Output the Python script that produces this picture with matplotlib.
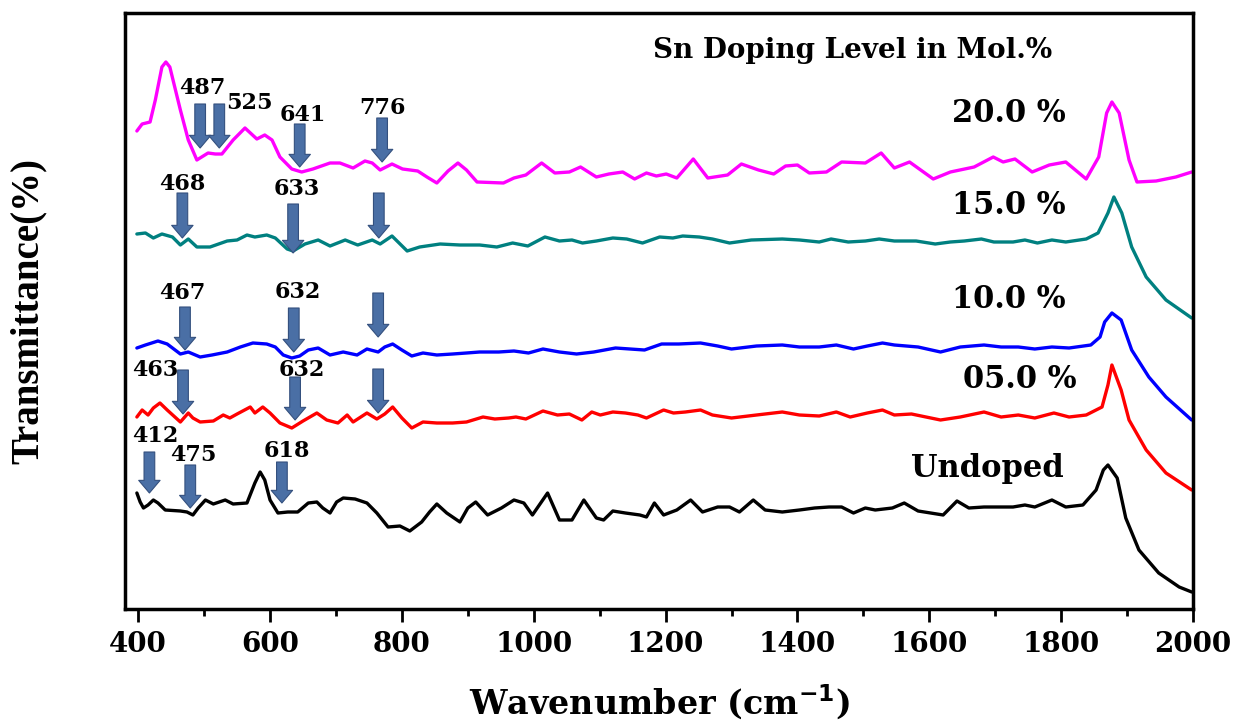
import matplotlib
matplotlib.use("Agg")
import matplotlib.pyplot as plt
from matplotlib.ticker import MultipleLocator

# FTIR spectra (wavenumber cm-1, transmittance in a.u. with offset)
w_20 = [398, 406, 418, 426, 436, 442, 448, 464, 476, 489, 506, 517, 527, 544, 562, 580, 592, 603, 615, 633,
        648, 665, 691, 706, 726, 744, 755, 767, 785, 801, 824, 838, 853, 870, 885, 898, 914, 954, 970, 988,
        1012, 1032, 1054, 1071, 1095, 1114, 1135, 1153, 1171, 1186, 1201, 1217, 1242, 1264, 1294, 1315, 1341,
        1364, 1382, 1400, 1418, 1444, 1467, 1503, 1527, 1547, 1570, 1606, 1632, 1668, 1697, 1712, 1730, 1756,
        1782, 1807, 1838, 1857, 1869, 1877, 1888, 1903, 1915, 1944, 1974, 1998]
t_20 = [95.6, 97.0, 97.4, 101.8, 108.4, 109.4, 108.4, 99.8, 93.8, 89.8, 91.2, 91.0, 91.0, 93.8, 96.2, 94.0,
        94.8, 93.8, 90.4, 88.0, 87.4, 88.0, 89.2, 89.2, 88.2, 89.6, 89.2, 87.8, 89.0, 88.0, 87.6, 86.4, 85.2,
        87.6, 89.2, 87.8, 85.4, 85.2, 86.2, 86.8, 89.2, 87.2, 87.4, 88.4, 86.4, 87.0, 87.4, 86.0, 87.2, 86.6,
        87.0, 86.2, 90.0, 86.2, 86.8, 89.0, 87.8, 87.0, 88.6, 88.8, 87.2, 87.4, 89.4, 89.2, 91.2, 88.2, 89.4,
        86.0, 87.4, 88.4, 90.4, 89.4, 90.0, 87.4, 88.8, 89.4, 86.0, 90.4, 99.2, 101.4, 99.2, 89.8, 85.4, 85.6,
        86.4, 87.4]

w_15 = [398, 411, 423, 436, 452, 464, 476, 489, 509, 535, 550, 565, 577, 595, 608, 626, 635, 653, 673, 691,
        714, 733, 755, 767, 785, 808, 827, 858, 888, 918, 944, 968, 991, 1017, 1039, 1058, 1074, 1095, 1120,
        1141, 1165, 1191, 1211, 1226, 1251, 1271, 1297, 1330, 1377, 1403, 1433, 1451, 1477, 1503, 1524, 1547,
        1580, 1609, 1632, 1653, 1679, 1698, 1727, 1745, 1764, 1786, 1807, 1838, 1856, 1871, 1880, 1892, 1907,
        1929, 1959, 1998]
t_15 = [75.0, 75.2, 74.2, 75.0, 74.4, 72.8, 74.0, 72.4, 72.4, 73.6, 73.8, 74.8, 74.4, 74.8, 74.2, 72.0, 71.6,
        73.0, 73.8, 72.6, 73.8, 72.8, 73.8, 73.0, 74.6, 71.6, 72.4, 73.0, 72.8, 72.8, 72.4, 73.2, 72.6, 74.4,
        73.6, 73.8, 73.2, 73.6, 74.2, 74.0, 73.2, 74.4, 74.2, 74.6, 74.4, 74.0, 73.2, 73.8, 74.0, 73.8, 73.4,
        74.0, 73.4, 73.6, 74.0, 73.6, 73.6, 73.0, 73.4, 73.6, 74.0, 73.4, 73.4, 73.8, 73.2, 73.8, 73.4, 74.0,
        75.2, 79.2, 82.4, 79.2, 72.4, 66.4, 61.8, 58.2]

w_10 = [398, 411, 430, 444, 464, 476, 494, 512, 535, 555, 574, 595, 608, 620, 633, 645, 658, 673, 691, 711,
        732, 747, 764, 774, 786, 800, 815, 832, 853, 877, 898, 918, 947, 970, 992, 1014, 1039, 1065, 1091, 1124,
        1168, 1194, 1220, 1253, 1279, 1300, 1338, 1377, 1403, 1433, 1459, 1485, 1506, 1529, 1547, 1583, 1617,
        1647, 1683, 1709, 1735, 1760, 1786, 1812, 1845, 1859, 1866, 1877, 1891, 1907, 1933, 1959, 1998]
t_10 = [52.2, 52.8, 53.6, 53.0, 51.0, 51.4, 50.4, 50.8, 51.4, 52.4, 53.2, 53.0, 52.4, 50.8, 50.2, 50.6, 51.8,
        52.2, 50.8, 51.4, 50.8, 52.0, 51.4, 52.4, 53.0, 51.8, 50.6, 51.2, 50.8, 51.0, 51.2, 51.4, 51.4, 51.6,
        51.2, 52.0, 51.4, 51.0, 51.4, 52.2, 51.8, 53.0, 53.0, 53.2, 52.6, 52.0, 52.6, 52.8, 52.4, 52.4, 52.8,
        52.0, 52.6, 53.2, 52.8, 52.4, 51.4, 52.4, 52.8, 52.4, 52.4, 52.0, 52.4, 52.2, 52.8, 54.4, 57.4, 59.2,
        57.8, 51.8, 46.4, 42.4, 37.8]

w_05 = [398, 406, 415, 423, 433, 444, 464, 476, 483, 494, 514, 529, 539, 550, 570, 577, 589, 600, 615, 633,
        650, 671, 686, 703, 717, 726, 747, 762, 774, 786, 800, 815, 832, 853, 877, 898, 923, 941, 962, 973, 988,
        1014, 1036, 1054, 1073, 1088, 1101, 1120, 1139, 1158, 1171, 1197, 1212, 1230, 1253, 1271, 1300, 1338,
        1377, 1403, 1433, 1459, 1480, 1506, 1529, 1547, 1573, 1595, 1617, 1647, 1683, 1709, 1735, 1760, 1789,
        1812, 1838, 1862, 1871, 1877, 1891, 1903, 1929, 1959, 1998]
t_05 = [38.4, 39.8, 38.8, 40.2, 41.2, 39.8, 37.4, 39.2, 38.2, 37.4, 37.6, 38.8, 38.2, 39.0, 40.4, 39.2, 40.4,
        39.2, 37.2, 36.2, 37.6, 39.2, 37.8, 37.2, 38.8, 37.4, 39.2, 38.0, 39.0, 40.4, 38.2, 36.2, 37.4, 37.2,
        37.2, 37.4, 38.4, 38.0, 38.2, 38.4, 38.0, 39.6, 38.8, 39.0, 37.8, 39.4, 38.8, 39.4, 39.2, 38.8, 38.2,
        39.8, 39.2, 39.4, 39.8, 38.8, 38.2, 38.8, 39.4, 38.8, 38.6, 39.4, 38.4, 39.2, 39.8, 38.8, 39.0, 38.4,
        37.8, 38.4, 39.4, 38.4, 38.8, 38.2, 39.2, 38.4, 38.8, 40.4, 44.8, 48.8, 43.8, 37.8, 31.8, 27.2, 23.8]

w_un = [398, 403, 408, 415, 423, 430, 441, 464, 474, 483, 491, 502, 514, 532, 544, 565, 577, 585, 592, 600,
        612, 627, 642, 658, 671, 680, 691, 701, 711, 729, 747, 762, 779, 797, 812, 830, 842, 853, 868, 888, 900,
        912, 930, 951, 970, 985, 998, 1021, 1039, 1058, 1076, 1095, 1106, 1120, 1139, 1161, 1171, 1183, 1197,
        1217, 1238, 1256, 1279, 1297, 1312, 1333, 1351, 1377, 1403, 1426, 1448, 1467, 1485, 1503, 1518, 1544,
        1562, 1583, 1621, 1642, 1660, 1683, 1727, 1745, 1760, 1786, 1807, 1833, 1853, 1864, 1871, 1885, 1898,
        1918, 1948, 1979, 1998]
t_un = [23.2, 21.4, 20.2, 20.8, 21.8, 21.2, 19.8, 19.6, 19.4, 18.8, 20.2, 21.8, 21.0, 21.8, 21.0, 21.2, 25.2,
        27.4, 25.8, 21.8, 19.2, 19.4, 19.4, 21.2, 21.4, 20.2, 19.2, 21.4, 22.2, 22.0, 21.2, 19.2, 16.4, 16.6,
        15.6, 17.4, 19.4, 21.0, 19.2, 17.4, 20.2, 21.4, 18.8, 20.2, 21.8, 21.2, 18.8, 23.2, 17.8, 17.8, 21.8,
        18.2, 17.8, 19.6, 19.2, 18.8, 18.4, 21.2, 18.8, 19.8, 21.8, 19.4, 20.4, 20.4, 19.4, 21.8, 19.8, 19.4,
        19.8, 20.2, 20.4, 20.4, 19.2, 20.2, 19.8, 20.2, 21.2, 19.6, 18.8, 21.6, 20.2, 20.4, 20.4, 20.8, 20.4,
        21.8, 20.4, 20.8, 23.8, 27.8, 28.8, 26.2, 18.2, 11.8, 7.2, 4.4, 3.4]

series = [(w_20, t_20, "#FF00FF", "20.0 %"), (w_15, t_15, "#008080", "15.0 %"),
          (w_10, t_10, "#0000FF", "10.0 %"), (w_05, t_05, "#FF0000", "05.0 %"),
          (w_un, t_un, "#000000", "Undoped")]

# curve labels (x, y)
name_x = [1720, 1720, 1720, 1738, 1688]
name_y = [99.2, 80.8, 61.8, 46.0, 28.2]

# band arrows: x, top, tip and their labels
arr_x = [494, 523, 645, 770, 467, 635, 765, 471, 636, 764, 468, 638, 764, 417, 479, 618]
arr_top = [101.0, 101.0, 97.0, 98.2, 83.2, 81.0, 83.2, 60.4, 60.2, 63.2, 47.8, 46.4, 48.0, 31.4, 28.8, 29.4]
arr_tip = [92.2, 92.2, 88.4, 89.4, 74.2, 71.2, 74.2, 51.8, 51.4, 54.4, 39.0, 37.8, 39.2, 23.2, 20.2, 21.2]
band_txt = ["487", "525", "641", "776", "468", "633", "467", "632", "463", "632", "412", "475", "618"]
band_x = [498, 568, 650, 771, 467, 641, 467, 642, 426, 648, 426, 483, 626]
band_y = [104.2, 101.2, 98.8, 100.2, 85.0, 84.0, 63.2, 63.4, 47.8, 47.8, 34.6, 30.8, 31.6]

fig = plt.figure(figsize=(12.38, 7.28), dpi=100)
ax = fig.add_axes([125 / 1238, 1 - 609 / 728, 1068 / 1238, 596 / 728])

for w, t, c, name in series:
    ax.plot(w, t, color=c, lw=2.4, solid_joinstyle="round", solid_capstyle="round")

for i in range(len(arr_x)):
    ax.annotate("", xy=(arr_x[i], arr_tip[i]), xytext=(arr_x[i], arr_top[i]),
                arrowprops=dict(arrowstyle="simple,head_length=0.65,head_width=1.1,tail_width=0.55",
                                mutation_scale=14, fc="#4A6FA5", ec="#34507E", lw=0.8,
                                shrinkA=0, shrinkB=0))

for i in range(len(band_txt)):
    ax.text(band_x[i], band_y[i], band_txt[i], ha="center", va="center",
            fontsize=16, fontweight="bold", family="DejaVu Serif")

for i in range(len(series)):
    ax.text(name_x[i], name_y[i], series[i][3], ha="center", va="center",
            fontsize=22, fontweight="bold", family="DejaVu Serif")

ax.text(1483, 111.8, "Sn Doping Level in Mol.%", ha="center", va="center",
        fontsize=20, fontweight="bold", family="DejaVu Serif")

ax.set_xlim(380, 2000)
ax.set_ylim(0, 119.2)
ax.xaxis.set_major_locator(MultipleLocator(200))
ax.xaxis.set_minor_locator(MultipleLocator(100))
ax.set_yticks([])
ax.tick_params(axis="x", which="major", direction="out", length=9.5, width=2, pad=6)
ax.tick_params(axis="x", which="minor", direction="out", length=5, width=2)
for lab in ax.get_xticklabels():
    lab.set_fontfamily("DejaVu Serif")
    lab.set_fontweight("bold")
    lab.set_fontsize(20)
for s in ax.spines.values():
    s.set_linewidth(2.5)

ax.set_xlabel("Wavenumber (cm$^{\\mathbf{-1}}$)", fontsize=24, fontweight="bold",
              family="DejaVu Serif", labelpad=18)
ax.set_ylabel("Transmittance(%)", fontsize=28, fontweight="bold",
              family="Liberation Serif", labelpad=56)

fig.savefig("out.png", dpi=100)
